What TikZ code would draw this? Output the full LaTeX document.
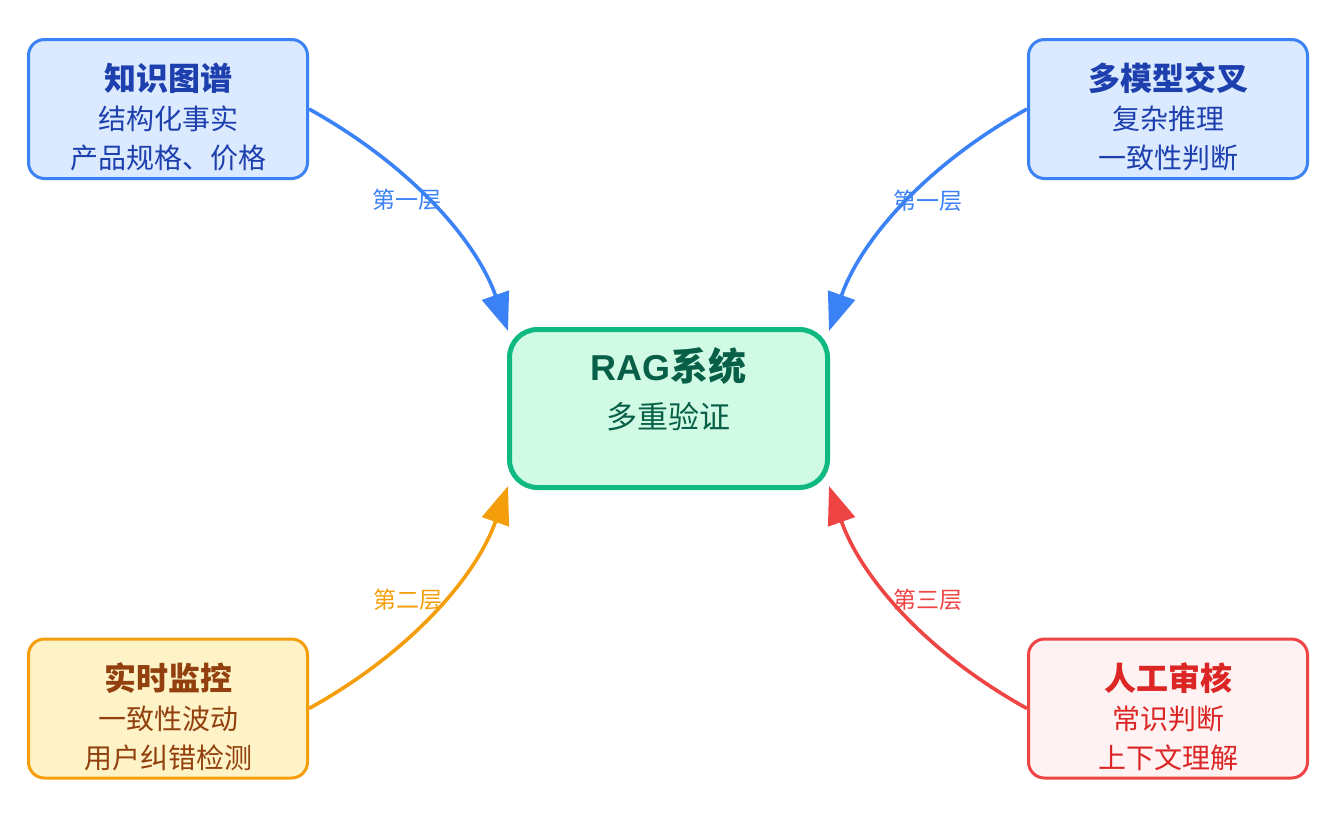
\documentclass[tikz,border=0pt]{standalone}
\usepackage{fontspec}
\setmainfont{Noto Sans CJK SC}
\newfontfamily\latinbold{Liberation Sans}
\usetikzlibrary{arrows.meta,calc}
\definecolor{bline}{HTML}{3B82F6}
\definecolor{bfill}{HTML}{DBEAFE}
\definecolor{btext}{HTML}{1E40AF}
\definecolor{gline}{HTML}{10B981}
\definecolor{gfill}{HTML}{D1FAE5}
\definecolor{gtext}{HTML}{065F46}
\definecolor{oline}{HTML}{F59E0B}
\definecolor{ofill}{HTML}{FEF3C7}
\definecolor{otext}{HTML}{92400E}
\definecolor{rline}{HTML}{EF4444}
\definecolor{rfill}{HTML}{FEF2F2}
\definecolor{rtext}{HTML}{DC2626}
\tikzset{
  box/.style={draw, rectangle, rounded corners=16pt, line width=3pt,
    minimum width=279pt, minimum height=139pt, inner sep=0pt},
  ttl/.style={inner sep=0pt, font=\fontsize{32}{36}\selectfont\bfseries},
  sub/.style={inner sep=0pt, font=\fontsize{28}{32}\selectfont},
  lbl/.style={inner sep=0pt, font=\fontsize{23}{26}\selectfont},
  conn/.style={line width=3.6pt, -{Triangle[length=38pt,width=28pt]}}
}
\begin{document}
\begin{tikzpicture}[x=1pt,y=-1pt]
\useasboundingbox (0,0) rectangle (1338,820);
% boxes
\node[box, draw=bline, fill=bfill] (kg) at (168,109) {};
\node[box, draw=bline, fill=bfill] (mm) at (1168,109) {};
\node[box, draw=oline, fill=ofill] (rt) at (168,708.5) {};
\node[box, draw=rline, fill=rfill] (hu) at (1168,708.5) {};
\node[draw=gline, fill=gfill, rectangle, rounded corners=28pt, line width=5pt,
  minimum width=318pt, minimum height=158pt, inner sep=0pt] (rag) at (668.5,408.5) {};
% texts
\node[ttl, text=btext] (kg1) at (168,78) {知识图谱};
\node[sub, text=btext] (kg2) at (168,119) {结构化事实};
\node[sub, text=btext] (kg3) at (168,158) {产品规格、价格};
\node[ttl, text=btext] (mm1) at (1168,78) {多模型交叉};
\node[sub, text=btext] (mm2) at (1168,119) {复杂推理};
\node[sub, text=btext] (mm3) at (1168,158) {一致性判断};
\node[ttl, text=otext] (rt1) at (168,678) {实时监控};
\node[sub, text=otext] (rt2) at (168,719) {一致性波动};
\node[sub, text=otext] (rt3) at (168,758) {用户纠错检测};
\node[ttl, text=rtext] (hu1) at (1168,678) {人工审核};
\node[sub, text=rtext] (hu2) at (1168,719) {常识判断};
\node[sub, text=rtext] (hu3) at (1168,758) {上下文理解};
\node[inner sep=0pt, font=\fontsize{38}{42}\selectfont\bfseries, text=gtext] (rag1) at (668.5,366) {{\latinbold\bfseries\fontsize{36}{42}\selectfont RAG}系统};
\node[inner sep=0pt, font=\fontsize{31}{36}\selectfont, text=gtext] (rag2) at (668.5,417) {多重验证};
% connectors
\coordinate (tnw) at ($(rag.north west)+(1,4)$);
\coordinate (tne) at ($(rag.north east)+(-1,4)$);
\coordinate (tsw) at ($(rag.south west)+(1,-4)$);
\coordinate (tse) at ($(rag.south east)+(-1,-4)$);
\draw[conn, bline] (kg.east) .. controls +(101,56) and +(-32,-91) .. (tnw);
\draw[conn, bline] (mm.west) .. controls +(-101,56) and +(32,-91) .. (tne);
\draw[conn, oline] (rt.east) .. controls +(101,-56) and +(-32,91) .. (tsw);
\draw[conn, rline] (hu.west) .. controls +(-101,-56) and +(32,91) .. (tse);
% labels
\node[lbl, text=bline] (l1) at (407,200) {第一层};
\node[lbl, text=bline] (l2) at (928,201) {第一层};
\node[lbl, text=oline] (l3) at (408,600) {第二层};
\node[lbl, text=rline] (l4) at (928,600) {第三层};
\end{tikzpicture}
\end{document}
